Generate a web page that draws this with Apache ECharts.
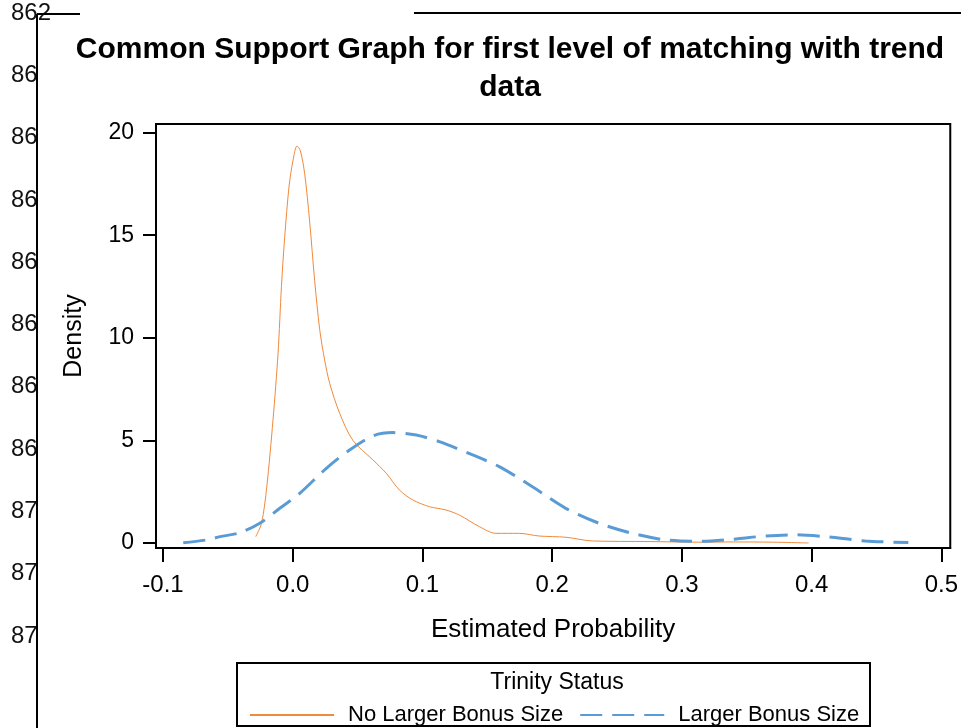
<!DOCTYPE html>
<html>
<head>
<meta charset="utf-8">
<script src="https://cdn.jsdelivr.net/npm/echarts@6/dist/echarts.min.js"></script>
<style>
  html, body {margin: 0; padding: 0; background: #fff;}
  #chart {width: 961px; height: 728px;}
</style>
</head>
<body>
<div id="chart"></div>
<script>
// density curves
const noLargerX = [-0.0285, -0.024, -0.020, -0.0152, -0.0113, -0.0087, -0.0062, -0.0028, 0.0003, 0.0033, 0.0059, 0.0092, 0.013, 0.0169, 0.0208, 0.0246, 0.0285, 0.0362, 0.0464, 0.0618, 0.0721, 0.0823, 0.0925, 0.1054, 0.118, 0.1285, 0.1438, 0.1567, 0.1746, 0.19, 0.2105, 0.231, 0.2746, 0.313, 0.34, 0.37, 0.3977]
const noLargerY = [0.31, 0.97, 2.74, 6.0, 9.26, 12.5, 14.9, 17.4, 18.67, 19.35, 19.12, 18.0, 15.7, 12.8, 10.4, 8.92, 7.78, 6.32, 5.0, 4.05, 3.40, 2.58, 2.10, 1.77, 1.61, 1.36, 0.80, 0.47, 0.47, 0.34, 0.28, 0.10, 0.07, 0.04, 0.05, 0.04, 0.0]
const largerX = [-0.0844, -0.0664, -0.056, -0.0408, -0.0254, -0.01, 0.0054, 0.0259, 0.0438, 0.0618, 0.0772, 0.0952, 0.113, 0.1387, 0.1592, 0.1848, 0.2105, 0.2362, 0.2618, 0.2875, 0.313, 0.3387, 0.3644, 0.3875, 0.4105, 0.4413, 0.4746]
const largerY = [0.01, 0.15, 0.31, 0.50, 0.96, 1.69, 2.42, 3.64, 4.53, 5.22, 5.38, 5.26, 4.94, 4.29, 3.72, 2.74, 1.69, 0.96, 0.47, 0.15, 0.08, 0.18, 0.34, 0.40, 0.31, 0.10, 0.02]

const xTicks = [-0.1, 0.0, 0.1, 0.2, 0.3, 0.4, 0.5]
const yTicks = [0, 5, 10, 15, 20]
const seriesNames = ['No Larger Bonus Size', 'Larger Bonus Size']

// stray labels from the page the graph was cut out of
const strayLabels = ['862', '86', '86', '86', '86', '86', '86', '86', '87', '87', '87']

const FONT = '"Liberation Sans", Arial, sans-serif'

const pairs = (xs, ys) => xs.map((x, i) => [x, ys[i]])

const chart = echarts.init(document.getElementById('chart'))

const stray = strayLabels.map((t, i) => ({
  type: 'text',
  x: 11,
  y: 13 + i * 62.3,
  z: 1,
  style: {text: t, fontSize: 24, fontFamily: FONT, fill: '#111', verticalAlign: 'middle'}
}))

const option = {
  backgroundColor: '#fff',
  animation: false,
  title: {
    text: 'Common Support Graph for first level of matching with trend\ndata',
    left: 510,
    top: 31,
    padding: 0,
    textAlign: 'center',
    textStyle: {fontSize: 30, fontWeight: 'bold', fontFamily: FONT, color: '#000', lineHeight: 38}
  },
  grid: {
    left: 156, right: 9, top: 124, bottom: 180,
    show: true, borderColor: '#000', borderWidth: 2, containLabel: false
  },
  legend: {
    data: seriesNames,
    left: 249,
    top: 704,
    padding: 0,
    itemWidth: 84,
    itemHeight: 14,
    itemGap: 16,
    itemStyle: {opacity: 0},
    textStyle: {fontSize: 22, fontFamily: FONT, color: '#000', padding: [0, 0, 0, 9]}
  },
  xAxis: {
    type: 'value',
    min: -0.1054,
    max: 0.5069,
    name: 'Estimated Probability',
    nameLocation: 'middle',
    nameGap: 69,
    nameTextStyle: {fontSize: 26, fontFamily: FONT, color: '#000'},
    axisLine: {show: true, onZero: false, lineStyle: {color: '#000', width: 2}},
    axisTick: {show: true, length: 14, lineStyle: {color: '#000', width: 2}, customValues: xTicks},
    axisLabel: {
      customValues: xTicks, margin: 25, fontSize: 24, fontFamily: FONT, color: '#000',
      formatter: v => v.toFixed(1)
    },
    splitLine: {show: false}
  },
  yAxis: {
    type: 'value',
    min: -0.244,
    max: 20.42,
    name: 'Density',
    nameLocation: 'middle',
    nameGap: 69,
    nameTextStyle: {fontSize: 25, fontFamily: FONT, color: '#000'},
    axisLine: {show: true, onZero: false, lineStyle: {color: '#000', width: 2}},
    axisTick: {show: true, length: 13, lineStyle: {color: '#000', width: 2}, customValues: yTicks},
    axisLabel: {customValues: yTicks, margin: 22, fontSize: 23, fontFamily: FONT, color: '#000'},
    splitLine: {show: false}
  },
  series: [
    {
      name: seriesNames[0],
      type: 'line',
      data: pairs(noLargerX, noLargerY),
      smooth: 0.3,
      symbol: 'none',
      color: '#F08A3C',
      lineStyle: {width: 1, color: '#F08A3C'}
    },
    {
      name: seriesNames[1],
      type: 'line',
      data: pairs(largerX, largerY),
      smooth: 0.3,
      symbol: 'none',
      color: '#5B9BD5',
      lineStyle: {width: 3, color: '#5B9BD5', type: [22, 10]}
    }
  ],
  graphic: [
    ...stray,
    // hides the part of the stray labels that runs past the page edge
    {type: 'rect', shape: {x: 38, y: 24, width: 18, height: 704}, style: {fill: '#fff'}, z: 2},
    {type: 'line', shape: {x1: 37, y1: 14, x2: 37, y2: 728}, style: {stroke: '#000', lineWidth: 2}, z: 5},
    {type: 'line', shape: {x1: 37, y1: 14, x2: 80, y2: 14}, style: {stroke: '#000', lineWidth: 2}, z: 5},
    {type: 'line', shape: {x1: 414, y1: 13, x2: 961, y2: 13}, style: {stroke: '#000', lineWidth: 2}, z: 5},
    {type: 'rect', shape: {x: 237, y: 663, width: 633, height: 63}, style: {fill: null, stroke: '#000', lineWidth: 2}, z: 5},
    {
      type: 'text', x: 557, y: 683, z: 5,
      style: {text: 'Trinity Status', fontSize: 23, fontFamily: FONT, fill: '#000', align: 'center', verticalAlign: 'middle'}
    }
  ]
}

chart.setOption(option)
</script>
</body>
</html>
